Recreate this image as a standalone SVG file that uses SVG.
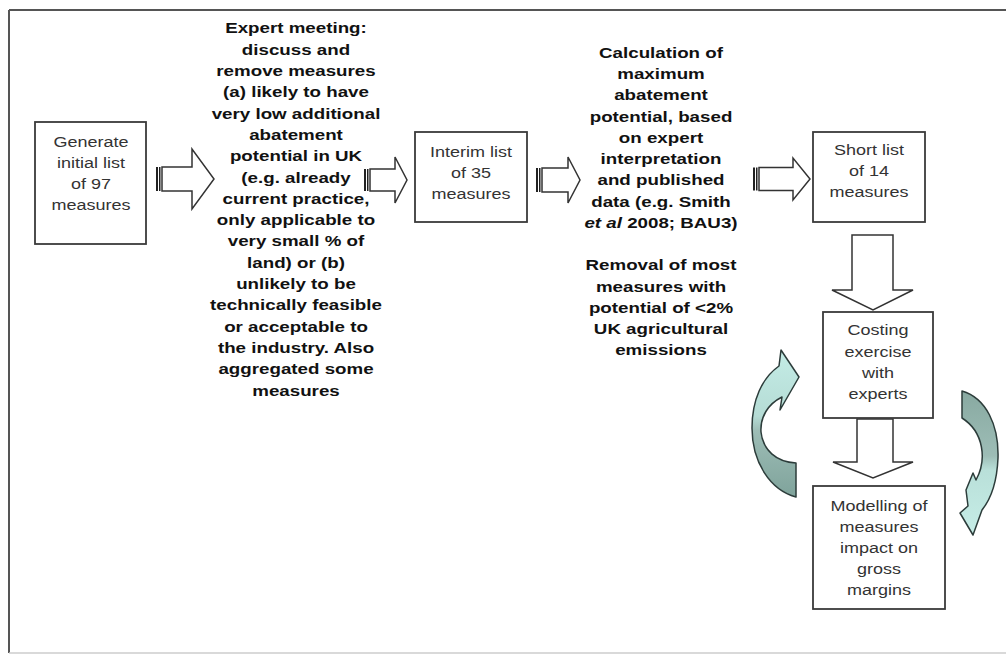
<svg xmlns="http://www.w3.org/2000/svg" width="1006" height="655" viewBox="0 0 1006 655">
<style>
.box{fill:#fff;stroke:#3a3a3a;stroke-width:1.8}
.arr{fill:#fff;stroke:#333;stroke-width:1.5;stroke-linejoin:miter}
.bar{fill:#222}
.b{font-family:"Liberation Sans",Arial,sans-serif;font-weight:bold;font-size:15px;fill:#111;text-anchor:middle}
.r{font-family:"Liberation Sans",Arial,sans-serif;font-size:15px;fill:#333;text-anchor:middle}
.curve{stroke:#2c3c3a;stroke-width:1.5;stroke-linejoin:round}
</style>
<defs>
<linearGradient id="gl" x1="0" y1="0" x2="0" y2="1">
<stop offset="0" stop-color="#c4ece6"/>
<stop offset="0.45" stop-color="#b5dcd5"/>
<stop offset="0.55" stop-color="#9dbdb6"/>
<stop offset="1" stop-color="#7fa39b"/>
</linearGradient>
<linearGradient id="gr" x1="0" y1="0" x2="0" y2="1">
<stop offset="0" stop-color="#88a9a1"/>
<stop offset="0.45" stop-color="#9dbdb6"/>
<stop offset="0.55" stop-color="#b9e0d9"/>
<stop offset="1" stop-color="#c6ede7"/>
</linearGradient>
</defs>
<rect width="1006" height="655" fill="#fff"/>
<g id="frame">
<line x1="9" y1="10" x2="1006" y2="10" stroke="#555" stroke-width="2"/>
<line x1="9" y1="10" x2="9" y2="653" stroke="#555" stroke-width="2"/>
<line x1="9" y1="653" x2="1006" y2="653" stroke="#ccc" stroke-width="1.5"/>
</g>
<g id="connectors">
<g id="arrow1">
<rect class="bar" x="156" y="167" width="2" height="24"/>
<rect class="bar" x="159" y="167" width="1.5" height="24"/>
<path class="arr" d="M162,167 L192,167 L192,149 L214,179 L192,209 L192,191 L162,191 Z"/>
</g>
<g id="arrow2">
<rect class="bar" x="364" y="169" width="2" height="22"/>
<rect class="bar" x="367" y="169" width="1.5" height="22"/>
<path class="arr" d="M370,169 L395,169 L395,157 L407,180 L395,203 L395,191 L370,191 Z"/>
</g>
<g id="arrow3">
<rect class="bar" x="536" y="168" width="2" height="24"/>
<rect class="bar" x="539" y="168" width="1.5" height="24"/>
<path class="arr" d="M542,168 L568,168 L568,157 L580,180 L568,203 L568,192 L542,192 Z"/>
</g>
<g id="arrow4">
<rect class="bar" x="753" y="167.5" width="2" height="23"/>
<rect class="bar" x="756" y="167.5" width="1.5" height="23"/>
<path class="arr" d="M759,167.5 L793,167.5 L793,158 L810,179 L793,200 L793,190.5 L759,190.5 Z"/>
</g>
<path id="down1" class="arr" d="M852,235 L893,235 L893,290 L913,290 L873,310 L832,290 L852,290 Z"/>
<path id="down2" class="arr" d="M857,419 L893,419 L893,462 L913,462 L873,478 L833,462 L857,462 Z"/>
<path id="loop-left" class="curve" fill="url(#gl)" d="M796,463 C776,462 763,450 761,432 C760,417 768,404 782,397 L780,410 L799,377 L781,350 L779,366 C762,378 752,400 752,428 C752,462 770,490 796,497 Z"/>
<path id="loop-right" class="curve" fill="url(#gr)" d="M962,391 C986,398 999,425 998,458 C997,482 990,500 982,510 L973,535 L960,513 L968,506 L966,490 L973,473 L976,480 C987,460 984,432 962,418 Z"/>
</g>
<g id="node-generate">
<rect class="box" x="35" y="122" width="111" height="122"/>
<g transform="translate(91,0) scale(1.2,1)"><text class="r"><tspan x="0" y="147">Generate</tspan><tspan x="0" y="168">initial list</tspan><tspan x="0" y="189">of 97</tspan><tspan x="0" y="210">measures</tspan></text></g>
</g>
<g id="node-expert">
<g transform="translate(296,0) scale(1.25,1)"><text class="b"><tspan x="0" y="33.5">Expert meeting:</tspan><tspan x="0" dy="21.3">discuss and</tspan><tspan x="0" dy="21.3">remove measures</tspan><tspan x="0" dy="21.3">(a) likely to have</tspan><tspan x="0" dy="21.3">very low additional</tspan><tspan x="0" dy="21.3">abatement</tspan><tspan x="0" dy="21.3">potential in UK</tspan><tspan x="0" dy="21.3">(e.g. already</tspan><tspan x="0" dy="21.3">current practice,</tspan><tspan x="0" dy="21.3">only applicable to</tspan><tspan x="0" dy="21.3">very small % of</tspan><tspan x="0" dy="21.3">land) or (b)</tspan><tspan x="0" dy="21.3">unlikely to be</tspan><tspan x="0" dy="21.3">technically feasible</tspan><tspan x="0" dy="21.3">or acceptable to</tspan><tspan x="0" dy="21.3">the industry. Also</tspan><tspan x="0" dy="21.3">aggregated some</tspan><tspan x="0" dy="21.3">measures</tspan></text></g>
</g>
<g id="node-interim">
<rect class="box" x="415" y="132" width="112" height="90"/>
<g transform="translate(471,0) scale(1.2,1)"><text class="r"><tspan x="0" y="157">Interim list</tspan><tspan x="0" y="178">of 35</tspan><tspan x="0" y="199">measures</tspan></text></g>
</g>
<g id="node-calculation">
<g transform="translate(661,0) scale(1.25,1)"><text class="b"><tspan x="0" y="58">Calculation of</tspan><tspan x="0" dy="21.25">maximum</tspan><tspan x="0" dy="21.25">abatement</tspan><tspan x="0" dy="21.25">potential, based</tspan><tspan x="0" dy="21.25">on expert</tspan><tspan x="0" dy="21.25">interpretation</tspan><tspan x="0" dy="21.25">and published</tspan><tspan x="0" dy="21.25">data (e.g. Smith</tspan><tspan x="0" dy="21.25"><tspan font-style="italic">et al</tspan> 2008; BAU3)</tspan><tspan x="0" dy="42.5">Removal of most</tspan><tspan x="0" dy="21.25">measures with</tspan><tspan x="0" dy="21.25">potential of &lt;2%</tspan><tspan x="0" dy="21.25">UK agricultural</tspan><tspan x="0" dy="21.25">emissions</tspan></text></g>
</g>
<g id="node-short">
<rect class="box" x="813" y="132" width="112" height="90"/>
<g transform="translate(869,0) scale(1.2,1)"><text class="r"><tspan x="0" y="155.5">Short list</tspan><tspan x="0" y="176.5">of 14</tspan><tspan x="0" y="197.5">measures</tspan></text></g>
</g>
<g id="node-costing">
<rect class="box" x="823" y="312" width="110" height="106"/>
<g transform="translate(878,0) scale(1.2,1)"><text class="r"><tspan x="0" y="335.5">Costing</tspan><tspan x="0" y="356.8">exercise</tspan><tspan x="0" y="378">with</tspan><tspan x="0" y="399.4">experts</tspan></text></g>
</g>
<g id="node-modelling">
<rect class="box" x="813" y="486" width="132" height="123"/>
<g transform="translate(879,0) scale(1.2,1)"><text class="r"><tspan x="0" y="511.5">Modelling of</tspan><tspan x="0" y="532.5">measures</tspan><tspan x="0" y="553.5">impact on</tspan><tspan x="0" y="574.5">gross</tspan><tspan x="0" y="595.5">margins</tspan></text></g>
</g>
</svg>
